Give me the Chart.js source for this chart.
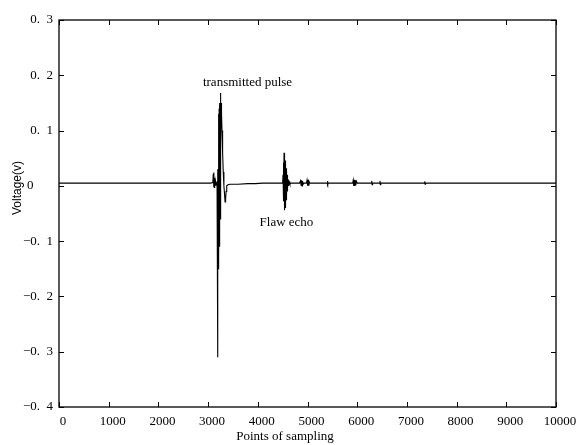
<!DOCTYPE html>
<html lang="en">
<head>
    <meta charset="UTF-8">
    <title>Ultrasonic echo signal</title>
    <script src="https://cdn.jsdelivr.net/npm/chart.js"></script>
    <style>
        body {
            margin: 0;
            padding: 0;
            background-color: #fff;
        }

        #wrap {
            width: 580px;
            height: 445px;
        }
    </style>
</head>
<body>
    <div id="wrap">
        <canvas id="signal" width="580" height="445"></canvas>
    </div>

    <script>
        const samples = [
            0, 1000, 2000, 3050,
            // small precursor
            3095, 3105, 3112, 3118, 3124, 3132, 3140, 3150, 3165, 3180,
            // transmitted pulse
            3190, 3194, 3198, 3202, 3206, 3210, 3214, 3218, 3222, 3226, 3230, 3234,
            3238, 3242, 3246, 3250, 3254, 3258, 3262, 3270, 3280, 3292, 3305, 3318,
            3330, 3342, 3352, 3362, 3375, 3400, 3440, 3600, 3800, 3950,
            4100, 4490,
            // flaw echo
            4500, 4508, 4513, 4518, 4523, 4528, 4533, 4538, 4543, 4548, 4553, 4558,
            4563, 4568, 4573, 4578, 4583, 4588, 4593, 4598, 4604, 4610, 4618, 4628,
            4645, 4670, 4750, 4840,
            // later small reflections
            4860, 4870, 4880, 4890, 4900, 4912, 4930, 4980, 4990, 5000, 5010, 5020,
            5030, 5045, 5200, 5395, 5402, 5410, 5420, 5700, 5910, 5920, 5930, 5940,
            5950, 5960, 5970, 5985, 6000, 6285, 6292, 6300, 6310, 6450, 6458, 6466,
            6475, 6900, 7350, 7358, 7366, 7375, 8000, 9000, 10000
        ];
        const voltage = [
            0.005, 0.005, 0.005, 0.005,
            0.006, 0.022, -0.002, 0.024, -0.003, 0.014, 0.001, 0.009, 0.003, 0.006,
            0.002, -0.31, 0.03, -0.15, 0.11, -0.145, 0.13, -0.13, 0.14, -0.11, 0.145, -0.09,
            0.15, -0.06, 0.155, 0.0, 0.168, 0.08, 0.15, 0.13, 0.10, 0.06, 0.025, 0.0,
            -0.014, -0.029, -0.024, -0.01, 0.0, 0.002, 0.003, 0.003, 0.004, 0.004,
            0.005, 0.005,
            0.006, 0.02, -0.012, 0.042, -0.028, 0.06, -0.038, 0.052, -0.044, 0.046, -0.04, 0.04,
            -0.034, 0.032, -0.026, 0.026, -0.018, 0.02, -0.01, 0.015, -0.004, 0.011, 0.0, 0.008,
            0.003, 0.005, 0.005, 0.005,
            0.009, 0.001, 0.01, 0.0, 0.009, 0.003, 0.005, 0.005, 0.01, 0.0, 0.011, 0.001,
            0.008, 0.005, 0.005, 0.005, 0.009, 0.002, 0.005, 0.005, 0.005, 0.01, 0.0, 0.011,
            0.0, 0.01, 0.001, 0.008, 0.005, 0.005, 0.009, 0.002, 0.005, 0.005, 0.009, 0.002,
            0.005, 0.005, 0.005, 0.008, 0.003, 0.005, 0.005, 0.005, 0.005
        ];

        const xTicks = [0, 1000, 2000, 3000, 4000, 5000, 6000, 7000, 8000, 9000, 10000];
        const yTicks = [-0.4, -0.3, -0.2, -0.1, 0, 0.1, 0.2, 0.3];

        const notes = [
            { text: 'transmitted pulse', x: 3793, y: 0.186 },
            { text: 'Flaw echo', x: 4577, y: -0.067 }
        ];

        const serif = '"Liberation Serif", "Times New Roman", serif';

        // box with inward ticks, axis titles and the two notes
        const framePlugin = {
            id: 'frame',
            afterDraw(chart) {
                const ctx = chart.ctx;
                const area = chart.chartArea;
                const xs = chart.scales.x;
                const ys = chart.scales.y;
                const len = 5;

                ctx.save();
                ctx.strokeStyle = '#000';
                ctx.lineWidth = 1.3;
                ctx.strokeRect(area.left, area.top, area.right - area.left, area.bottom - area.top);

                ctx.lineWidth = 1;
                ctx.beginPath();
                xTicks.forEach(v => {
                    const px = Math.round(xs.getPixelForValue(v)) + 0.5;
                    ctx.moveTo(px, area.bottom);
                    ctx.lineTo(px, area.bottom - len);
                    ctx.moveTo(px, area.top);
                    ctx.lineTo(px, area.top + len);
                });
                yTicks.forEach(v => {
                    const py = Math.round(ys.getPixelForValue(v)) + 0.5;
                    ctx.moveTo(area.left, py);
                    ctx.lineTo(area.left + len, py);
                    ctx.moveTo(area.right, py);
                    ctx.lineTo(area.right - len, py);
                });
                ctx.stroke();

                ctx.fillStyle = '#000';
                ctx.textAlign = 'center';
                ctx.textBaseline = 'middle';

                ctx.font = '13px ' + serif;
                notes.forEach(n => {
                    ctx.fillText(n.text, xs.getPixelForValue(n.x), ys.getPixelForValue(n.y));
                });

                ctx.fillText('Points of sampling', 285, 437);

                ctx.font = '12px "Liberation Sans", Arial, sans-serif';
                ctx.translate(18, 188);
                ctx.rotate(-Math.PI / 2);
                ctx.fillText('Voltage(v)', 0, 0);
                ctx.restore();
            }
        };

        const config = {
            type: 'line',
            data: {
                datasets: [{
                    data: samples.map((s, i) => ({ x: s, y: voltage[i] })),
                    borderColor: '#000',
                    borderWidth: 1.1,
                    pointRadius: 0,
                    tension: 0,
                    fill: false
                }]
            },
            options: {
                responsive: false,
                animation: false,
                devicePixelRatio: 1,
                layout: {
                    padding: { top: 20, right: 24, bottom: 0, left: 0 }
                },
                plugins: {
                    legend: { display: false },
                    tooltip: { enabled: false }
                },
                scales: {
                    x: {
                        type: 'linear',
                        min: 0,
                        max: 10000,
                        afterBuildTicks: s => { s.ticks = xTicks.map(v => ({ value: v })); },
                        afterFit: s => { s.height = 38; },
                        grid: { display: false, drawTicks: false },
                        border: { display: false },
                        ticks: {
                            color: '#000',
                            padding: 7,
                            labelOffset: 4,
                            maxRotation: 0,
                            autoSkip: false,
                            font: { family: serif, size: 13 },
                            callback: v => String(v)
                        }
                    },
                    y: {
                        min: -0.4,
                        max: 0.3,
                        afterBuildTicks: s => { s.ticks = yTicks.map(v => ({ value: v })); },
                        afterFit: s => { s.width = 59; },
                        grid: { display: false, drawTicks: false },
                        border: { display: false },
                        ticks: {
                            color: '#000',
                            padding: 6,
                            font: { family: serif, size: 13 },
                            callback: v => {
                                const t = Math.round(v * 10);
                                if (t === 0) return '0\u2002\u2002\u2002';
                                return (t < 0 ? '\u2212' : '') + '0.\u2002' + Math.abs(t);
                            }
                        }
                    }
                }
            },
            plugins: [framePlugin]
        };

        const chart = new Chart(document.getElementById('signal'), config);
    </script>
</body>
</html>
